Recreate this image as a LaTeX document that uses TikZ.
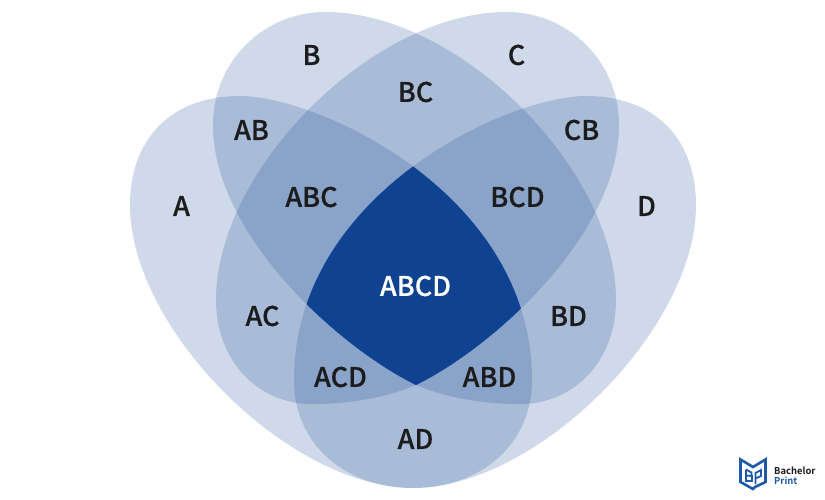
\documentclass[tikz,border=0pt]{standalone}
\usepackage{fontspec}
\setmainfont{Noto Sans}
\newfontfamily\lblfont[RawFeature={embolden=0.4}]{Noto Sans CJK KR Medium}
\newfontfamily\logofont{Noto Sans CJK KR Bold}
\definecolor{vennblue}{HTML}{0F4392}
\definecolor{inkdark}{HTML}{1C1C1C}
\definecolor{logoblue}{HTML}{1F5AA8}
\newcommand{\shapeA}{(130,205) .. controls (130,140) and (170,96) .. (240,96) .. controls (317,96) and (532,193) .. (532,380) .. controls (532,445) and (480,488) .. (413,488) .. controls (290,488) and (130,330) .. (130,205) -- cycle}
\newcommand{\shapeD}{(696,205) .. controls (696,140) and (656,96) .. (586,96) .. controls (509,96) and (294,193) .. (294,380) .. controls (294,445) and (346,488) .. (413,488) .. controls (536,488) and (696,330) .. (696,205) -- cycle}
\newcommand{\shapeB}{(213,125) .. controls (213,60) and (265,12) .. (325,12) .. controls (460,12) and (616,170) .. (616,300) .. controls (616,360) and (575,404) .. (520,404) .. controls (480,404) and (445,397) .. (416,385) .. controls (340,348) and (213,235) .. (213,125) -- cycle}
\newcommand{\shapeC}{(619,125) .. controls (619,60) and (567,12) .. (507,12) .. controls (372,12) and (216,170) .. (216,300) .. controls (216,360) and (257,404) .. (312,404) .. controls (352,404) and (387,397) .. (416,385) .. controls (492,348) and (619,235) .. (619,125) -- cycle}
\tikzset{
  petal/.style={fill=vennblue,fill opacity=0.2,draw=none},
  lbl/.style={text=inkdark,font=\lblfont\fontsize{27}{27}\selectfont,inner sep=0pt,anchor=center},
}
\begin{document}
\begin{tikzpicture}[x=1pt,y=-1pt]
\useasboundingbox (0,0) rectangle (825,500);
\fill[white] (0,0) rectangle (825,500);
\fill[petal] \shapeA;
\fill[petal] \shapeB;
\fill[petal] \shapeC;
\fill[petal] \shapeD;
\begin{scope}
\clip \shapeA;
\clip \shapeB;
\clip \shapeC;
\clip \shapeD;
\fill[vennblue] (0,0) rectangle (825,500);
\end{scope}
\node[lbl] (a) at (181.5,206) {A};
\node[lbl] (b) at (311.5,55) {B};
\node[lbl] (c) at (516.5,55) {C};
\node[lbl] (d) at (646.5,206) {D};
\node[lbl] (ab) at (251.5,130) {AB};
\node[lbl] (bc) at (415.5,92) {BC};
\node[lbl] (cb) at (581.5,130) {CB};
\node[lbl] (abc) at (311.5,197) {ABC};
\node[lbl] (bcd) at (517.5,197) {BCD};
\node[lbl] (ac) at (262.5,316) {AC};
\node[lbl] (bd) at (568.5,316) {BD};
\node[lbl,text=white] (abcd) at (415.5,286) {ABCD};
\node[lbl] (acd) at (340.5,377) {ACD};
\node[lbl] (abd) at (489.5,377) {ABD};
\node[lbl] (ad) at (415.5,439) {AD};
% logo
\draw[logoblue,line width=2.6pt,line join=miter] (740.5,459.5) -- (753,467) -- (765.5,459.5) -- (765.5,482) -- (755,487) -- (753,489) -- (740.5,482) -- cycle;
\draw[logoblue,line width=1.8pt] (746,469.5) -- (746,481) -- (752,481) -- (752,476) -- (746,475.5) (746,469.5) -- (751.5,472.5) -- (751.5,476);
\draw[logoblue,line width=1.8pt] (755.5,484) -- (755.5,473) -- (761,470) -- (761,476) -- (755.5,478.5);
\node[inner sep=0pt,anchor=west,text=inkdark,font=\logofont\fontsize{9.4}{10}\selectfont] (logoa) at (774,471) {Bachelor};
\node[inner sep=0pt,anchor=west,text=logoblue,font=\logofont\fontsize{9.4}{10}\selectfont] (logob) at (774,480.5) {Print};
\end{tikzpicture}
\end{document}
